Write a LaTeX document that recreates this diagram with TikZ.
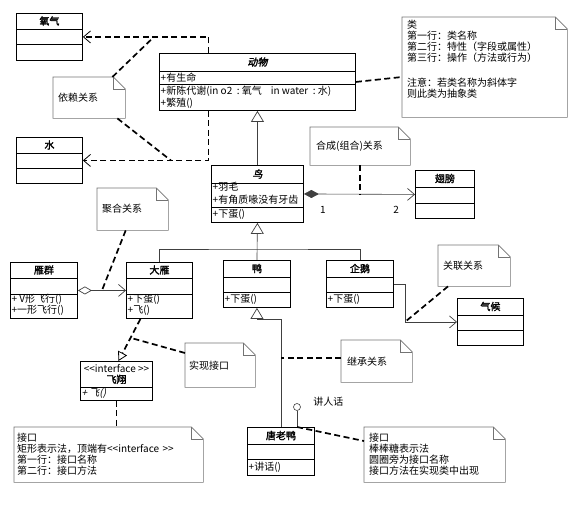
\documentclass[tikz,border=0pt]{standalone}
\usepackage{fontspec}
\setmainfont{Noto Sans CJK SC}[AutoFakeBold=2,AutoFakeSlant=0.2]
\usetikzlibrary{arrows.meta,calc}

\begin{document}
\begin{tikzpicture}[x=1pt,y=-1pt,font=\fontsize{10}{11}\selectfont,
  cls/.style={draw,line width=0.9pt,anchor=north west,inner sep=0pt},
  sep/.style={line width=0.9pt},
  ctitle/.style={font=\fontsize{10}{11}\selectfont\bfseries,inner sep=0pt},
  mem/.style={anchor=west,inner xsep=1.5pt,inner ysep=0pt},
  note/.style={anchor=north west,align=left,inner xsep=5pt,inner ysep=0pt},
  nfrm/.style={draw=black!55,line width=0.6pt},
  dep/.style={line width=1.7pt,dash pattern=on 6pt off 3.5pt},
  deparr/.style={dep,-{Straight Barb[length=7pt,width=12pt,line width=0.8pt]}},
  rel/.style={draw=black!75,line width=0.6pt},
  gen/.style={rel,-{Triangle[open,length=11pt,width=13pt,line width=0.7pt]}},
  real/.style={dep,-{Triangle[open,length=9pt,width=10pt,line width=0.8pt]}},
  assoc/.style={rel,-{Straight Barb[length=7pt,width=12pt,line width=0.7pt]}},
  comp/.style={rel,{Diamond[length=15pt,width=8pt]}-{Straight Barb[length=7pt,width=12pt,line width=0.7pt]}},
  agg/.style={rel,{Diamond[open,length=14pt,width=8pt,line width=0.7pt]}-{Straight Barb[length=7pt,width=12pt,line width=0.7pt]}}]
\useasboundingbox (0,0) rectangle (579,508);
% Class boxes: name, top left corner, width, height, the two dividers, title.
\foreach \nm/\cx/\cy/\cw/\ch/\ra/\rb/\ttl in {
  yangqi/16/13/66/47/16/31/氧气,
  shui/16/137/66/46/16/31/水,
  dongwu/159/53/196/57/18/31/\textit{动物},
  niao/211/165/92/57/18/42/\textit{鸟},
  chibang/415/170/59/48/17/33/翅膀,
  yanqun/10/262/67/56/16/32/雁群,
  dayan/126/262/66/56/16/32/大雁,
  ya/223/260/67/47/17/32/鸭,
  qie/326/260/67/47/17/32/企鹅,
  qihou/457/298/66/47/17/32/气候,
  tly/247/427/67/48/17/32/唐老鸭}{
\node[cls,minimum width=\cw*1pt,minimum height=\ch*1pt] (\nm) at (\cx,\cy) {};
\draw[sep] ([yshift=-\ra*1pt]\nm.north west) -- ([yshift=-\ra*1pt]\nm.north east);
\draw[sep] ([yshift=-\rb*1pt]\nm.north west) -- ([yshift=-\rb*1pt]\nm.north east);
\node[ctitle] (\nm-t) at ([yshift=-\ra*0.5pt]\nm.north) {\ttl};}
% The interface box has one divider only.
\node[cls,minimum width=72pt,minimum height=39pt] (feixiang) at (80,361) {};
\draw[sep] ([yshift=-26pt]feixiang.north west) -- ([yshift=-26pt]feixiang.north east);
\node[ctitle,align=center] (feixiang-t) at ([yshift=-13pt]feixiang.north) {{\mdseries <{}<interface >{}>}\\飞翔};
% Members.
\node[mem] (dongwu-a) at (159,78) {+有生命};
\node[mem] (dongwu-o1) at (159,91) {+新陈代谢(in\ o2\ \ :\ 氧气\ \ \ \ in\ water\ \ :\ 水)};
\node[mem] (dongwu-o2) at (159,103) {+繁殖()};
\node[mem] (niao-a1) at (211,187) {+羽毛};
\node[mem] (niao-a2) at (211,200) {+有角质喙没有牙齿};
\node[mem] (niao-o) at (211,214) {+下蛋()};
\node[mem] (yanqun-o1) at (10,299) {+ V形飞行()};
\node[mem] (yanqun-o2) at (10,310) {+一形飞行()};
\node[mem] (dayan-o1) at (126,299) {+下蛋()};
\node[mem] (dayan-o2) at (126,310) {+飞()};
\node[mem] (ya-o) at (223,299) {+下蛋()};
\node[mem] (qie-o) at (326,299) {+下蛋()};
\node[mem] (feixiang-o) at (80,393) {\textit{+ 飞()}};
\node[mem] (tly-o) at (247,467) {+讲话()};
% Notes.
\node[note,text width=62pt,minimum height=41pt] (nyl) at (53,77) {依赖关系};
\node[note,inner ysep=3pt] (nlei) at (402,17) {\parbox[c][94pt][t]{155pt}{\raggedright\fontsize{10}{11}\selectfont
  类\\第一行：类名称\\第二行：特性（字段或属性）\\第三行：操作（方法或行为）\\[14pt]注意：若类名称为斜体字\\则此类为抽象类}};
\node[note,text width=88pt,minimum height=38pt,inner xsep=6pt] (nhc) at (310,127) {合成(组合)关系};
\node[note,text width=61pt,minimum height=42pt] (njh) at (97,188) {聚合关系};
\node[note,text width=62pt,minimum height=41pt] (ngl) at (438,245) {关联关系};
\node[note,text width=62pt,minimum height=44pt,inner xsep=4pt] (nsx) at (185,343) {实现接口};
\node[note,text width=59pt,minimum height=42pt,inner xsep=6pt] (njc) at (341,340) {继承关系};
\node[note,text width=183pt,minimum height=55pt,inner xsep=3pt] (njk) at (14,427)
  {接口\\矩形表示法，顶端有<{}<interface >{}>\\第一行：接口名称\\第二行：接口方法};
\node[note,text width=131pt,minimum height=55pt] (nbb) at (364,427)
  {接口\\棒棒糖表示法\\圆圈旁为接口名称\\接口方法在实现类中出现};
\foreach \nt in {nyl,nlei,nhc,njh,ngl,nsx,njc,njk,nbb}{
\draw[nfrm] (\nt.north west) -- ([xshift=-12pt]\nt.north east) -- ([yshift=-12pt]\nt.north east)
  -- (\nt.south east) -- (\nt.south west) -- cycle;
\draw[nfrm] ([xshift=-12pt]\nt.north east) |- ([yshift=-12pt]\nt.north east);}
% Dependency.
\draw[deparr] ([xshift=-49pt]dongwu.north) |- (yangqi.east);
\draw[deparr] ([xshift=-49pt]dongwu.south) |- (shui.east);
\draw[dep] ([xshift=-13pt]nyl.north east) -- ([xshift=71pt]yangqi.east);
\draw[dep] ([xshift=-8pt]nyl.south east) -- ([xshift=88pt]shui.east);
\draw[dep] (dongwu.east) -- ([yshift=-60pt]nlei.north west);
% Generalization.
\draw[gen] (niao.north) -- (dongwu.south);
\draw[rel] (dayan.north) |- ([yshift=11pt]ya.north) -| (qie.north);
\draw[gen] (ya.north) -- (niao.south);
\draw[gen] (tly.north) |- ([yshift=-11pt]ya.south) -- (ya.south);
\draw[dep] ([yshift=3pt]njc.west) -- ([yshift=3pt]njc.west -| tly.north);
% Composition and aggregation.
\draw[comp] (niao.east) -- node[pos=0.17,yshift=-16pt] (m1) {1} node[pos=0.83,yshift=-16pt] (m2) {2} (chibang.west);
\draw[dep] (nhc.south) -- (nhc.south |- niao.east);
\draw[agg] (yanqun.east) -- (dayan.west);
\draw[dep] ([xshift=-7pt]njh.south) -- ($(yanqun.east)!0.5!(dayan.west)$);
% Association.
\draw[assoc] (qie.east) -| ([xshift=-52pt]qihou.west) -- (qihou.west);
\draw[dep] ([xshift=10pt]ngl.south west) -- ([xshift=-52pt]qihou.west);
% Realization.
\coordinate (r1) at ([xshift=-19pt]dayan.south);
\coordinate (r2) at ([xshift=2pt]feixiang.north);
\draw[real] (r1) -- (r2);
\draw[dep] ([yshift=-10pt]nsx.north west) -- ($(r1)!0.45!(r2)$);
\draw[dep] (feixiang.south) -- (feixiang.south |- njk.north);
% Lollipop interface.
\node[circle,draw=black!75,line width=0.6pt,minimum size=7pt,inner sep=0pt,
  label={[name=lpl,label distance=9pt,yshift=5pt]right:讲人话}] (lp) at (297,407) {};
\draw[rel] (lp.south) -- (lp.south |- tly.north);
\draw[dep] (lp.south |- tly.north) -- ([yshift=-14pt]nbb.north west);
\end{tikzpicture}
\end{document}
